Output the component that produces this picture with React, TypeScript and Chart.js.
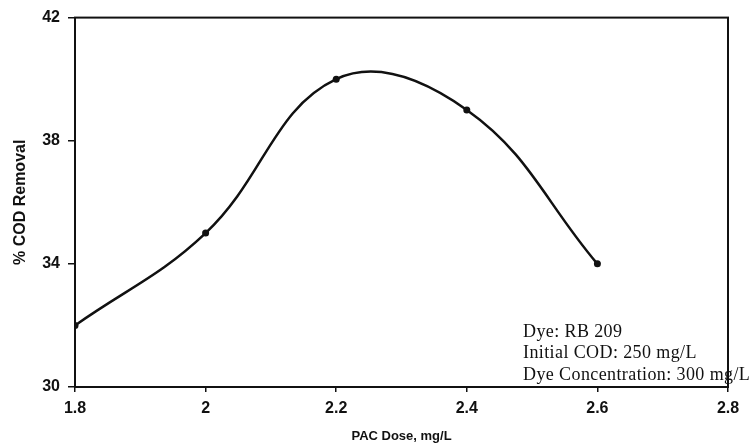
import React, { useEffect, useRef } from "react";
import { Chart, registerables } from "chart.js";

Chart.register(...registerables);

const doses = [1.8, 2.0, 2.2, 2.4, 2.6];
const codRemoval = [32, 35, 40, 39, 34];
const xTicks = [1.8, 2, 2.2, 2.4, 2.6, 2.8];
const yTicks = [30, 34, 38, 42];
const noteLines = ["Dye: RB 209", "Initial COD: 250 mg/L", "Dye Concentration: 300 mg/L"];

const framePlugin = {
  id: "frame",
  afterDatasetsDraw(chart: any) {
    const { ctx, chartArea } = chart;
    ctx.save();
    ctx.strokeStyle = "#111";
    ctx.lineWidth = 2;
    ctx.strokeRect(chartArea.left, chartArea.top, chartArea.right - chartArea.left, chartArea.bottom - chartArea.top);
    ctx.restore();
  },
  afterDraw(chart: any) {
    const { ctx, chartArea } = chart;
    ctx.save();
    ctx.fillStyle = "#111";
    ctx.font = '18px "Liberation Serif", "Times New Roman", serif';
    try { (ctx as any).letterSpacing = "0.4px"; } catch (e) {}
    ctx.textAlign = "left";
    ctx.textBaseline = "middle";
    const x0 = chartArea.left + 448;
    const ys = [chartArea.bottom - 55, chartArea.bottom - 34, chartArea.bottom - 12];
    noteLines.forEach((t, i) => ctx.fillText(t, x0, ys[i]));
    ctx.restore();
  },
};

export default function App() {
  const ref = useRef<HTMLCanvasElement>(null);
  useEffect(() => {
    document.body.style.margin = "0";
    const chart = new Chart(ref.current!, {
      type: "line",
      data: {
        datasets: [
          {
            data: doses.map((d, i) => ({ x: d, y: codRemoval[i] })),
            borderColor: "#111",
            backgroundColor: "#111",
            borderWidth: 2.5,
            pointRadius: 3.5,
            pointBackgroundColor: "#111",
            pointBorderWidth: 0,
            tension: 0.4,
            fill: false,
          },
        ],
      },
      options: {
        animation: false,
        responsive: false,
        events: [],
        layout: { padding: { top: 17, right: 26, left: 0, bottom: 0 } },
        plugins: { legend: { display: false }, tooltip: { enabled: false } },
        scales: {
          x: {
            type: "linear",
            min: 1.8,
            max: 2.8,
            afterBuildTicks: (axis: any) => {
              axis.ticks = xTicks.map((v) => ({ value: v }));
            },
            afterFit: (axis: any) => {
              axis.height = 59;
            },
            grid: { drawOnChartArea: false, tickLength: 5, color: "#111", lineWidth: 1.5 },
            border: { display: true, color: "#111", width: 2 },
            ticks: {
              color: "#111",
              font: { family: "Arial, 'Liberation Sans', sans-serif", size: 16, weight: "bold" },
              padding: 7,
              maxRotation: 0,
              callback: (v: any) => String(Math.round(Number(v) * 10) / 10),
            },
            title: {
              display: true,
              text: "PAC Dose, mg/L",
              color: "#111",
              font: { family: "Arial, 'Liberation Sans', sans-serif", size: 13, weight: "bold" },
              padding: { top: 0, bottom: 2 },
            },
          },
          y: {
            type: "linear",
            min: 30,
            max: 42,
            afterBuildTicks: (axis: any) => {
              axis.ticks = yTicks.map((v) => ({ value: v }));
            },
            afterFit: (axis: any) => {
              axis.width = 75;
            },
            grid: { drawOnChartArea: false, tickLength: 7, color: "#111", lineWidth: 1.5 },
            border: { display: true, color: "#111", width: 2 },
            ticks: {
              color: "#111",
              font: { family: "Arial, 'Liberation Sans', sans-serif", size: 16, weight: "bold" },
              padding: 8,
            },
            title: {
              display: true,
              text: "% COD Removal",
              color: "#111",
              font: { family: "Arial, 'Liberation Sans', sans-serif", size: 16, weight: "bold" },
              padding: { top: 11, bottom: 0 },
            },
          },
        },
      },
      plugins: [framePlugin],
    } as any);
    return () => chart.destroy();
  }, []);
  return (
    <div style={{ width: 754, height: 446, background: "#fff" }}>
      <canvas ref={ref} width={754} height={446} style={{ display: "block" }} />
    </div>
  );
}
